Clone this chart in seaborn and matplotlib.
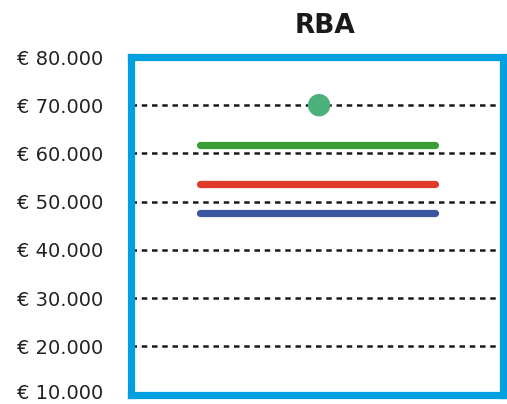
import matplotlib
matplotlib.use("Agg")
import matplotlib.pyplot as plt
import matplotlib.transforms as mtransforms
import seaborn as sns
import pandas as pd

category = ["RBA"]
line_labels = ["high", "mid", "low"]
line_values = [61700, 53700, 47700]
line_colors = ["#3a9e35", "#e03b2a", "#3b56a0"]
point_value = [70000]
point_color = "#4cb07a"
yticks = [10000, 20000, 30000, 40000, 50000, 60000, 70000, 80000]
ytick_labels = ["€ 10.000", "€ 20.000", "€ 30.000", "€ 40.000",
                "€ 50.000", "€ 60.000", "€ 70.000", "€ 80.000"]

sns.set_style("white")
plt.rcParams['font.family'] = ['DejaVu Sans']

fig = plt.figure(figsize=(5.07, 4.04), dpi=100)
ax = fig.add_axes([0.2584, 0.0235, 0.993 - 0.2584, 0.8589 - 0.0235])

for y in yticks:
    ax.axhline(y, color="#1a1a1a", lw=1.8, ls=(0, (2.2, 1.9)), zorder=1)

half = 0.315
for v, c in zip(line_values, line_colors):
    df = pd.DataFrame({"x": [-half, half], "y": [v, v]})
    sns.lineplot(data=df, x="x", y="y", color=c, lw=5.2, ax=ax,
                 solid_capstyle="round", zorder=3)

pdf = pd.DataFrame({"cat": category, "val": point_value})
ax.scatter([0.005], pdf["val"], s=260, color=point_color, zorder=4, edgecolor="none")

ax.set_xlim(-0.5, 0.5)
ax.set_ylim(10000, 80000)
ax.set_yticks(yticks)
ax.set_yticklabels(ytick_labels, fontsize=14, color="#222222")
ax.set_xticks([])
ax.set_xlabel("")
ax.set_ylabel("")
ax.tick_params(axis="y", length=0, pad=20)

# nudge the lowest label up slightly so it stays inside the canvas
lbl = ax.get_yticklabels()[0]
lbl.set_transform(lbl.get_transform() +
                  mtransforms.ScaledTranslation(0, 3 / 100, fig.dpi_scale_trans))

for s in ax.spines.values():
    s.set_visible(True)
    s.set_color("#009fe0")
    s.set_linewidth(5.2)

fig.text(325 / 507, 1 - 26 / 404, category[0], ha="center", va="center",
         fontsize=19, fontweight="bold", color="#1a1a1a")

fig.savefig("out.png", dpi=100)
